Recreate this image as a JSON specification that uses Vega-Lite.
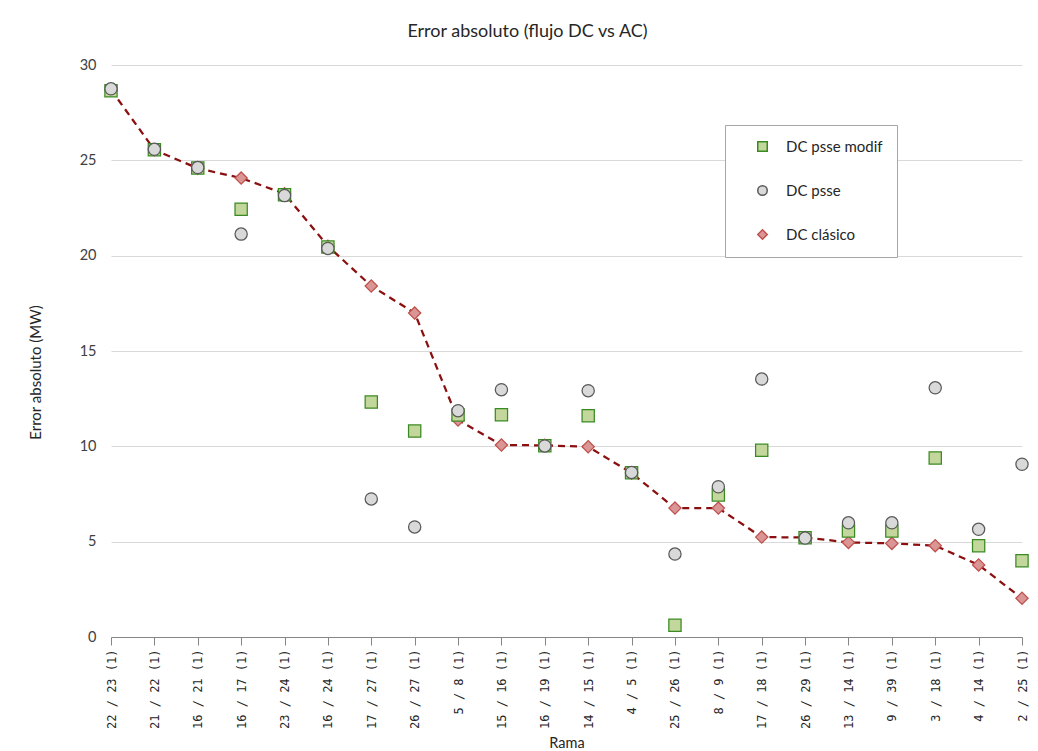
{
  "$schema": "https://vega.github.io/schema/vega-lite/v6.json",
  "autosize": {"type": "none"},
  "padding": {"left": 111, "top": 65, "right": 16, "bottom": 114},
  "width": 911,
  "height": 572,
  "background": "white",
  "title": {"text": "Error absoluto (flujo DC vs AC)", "font": "Lato", "fontSize": 18, "fontWeight": "normal", "color": "#262626", "anchor": "middle", "dx": -39, "offset": 16},
  "config": {
    "view": {"stroke": null},
    "font": "Lato"
  },
  "data": {
    "values": [
      {"rama": "22 / 23 (1)", "DC clásico": 28.7, "DC psse modif": 28.65, "DC psse": 28.75},
      {"rama": "21 / 22 (1)", "DC clásico": 25.55, "DC psse modif": 25.55, "DC psse": 25.58},
      {"rama": "16 / 21 (1)", "DC clásico": 24.58, "DC psse modif": 24.6, "DC psse": 24.62},
      {"rama": "16 / 17 (1)", "DC clásico": 24.07, "DC psse modif": 22.44, "DC psse": 21.13},
      {"rama": "23 / 24 (1)", "DC clásico": 23.25, "DC psse modif": 23.2, "DC psse": 23.15},
      {"rama": "16 / 24 (1)", "DC clásico": 20.5, "DC psse modif": 20.45, "DC psse": 20.38},
      {"rama": "17 / 27 (1)", "DC clásico": 18.41, "DC psse modif": 12.32, "DC psse": 7.24},
      {"rama": "26 / 27 (1)", "DC clásico": 16.99, "DC psse modif": 10.8, "DC psse": 5.77},
      {"rama": "5 / 8 (1)", "DC clásico": 11.38, "DC psse modif": 11.64, "DC psse": 11.87},
      {"rama": "15 / 16 (1)", "DC clásico": 10.07, "DC psse modif": 11.66, "DC psse": 12.97},
      {"rama": "16 / 19 (1)", "DC clásico": 10.05, "DC psse modif": 10.03, "DC psse": 10.02},
      {"rama": "14 / 15 (1)", "DC clásico": 9.98, "DC psse modif": 11.6, "DC psse": 12.92},
      {"rama": "4 / 5 (1)", "DC clásico": 8.6, "DC psse modif": 8.62, "DC psse": 8.63},
      {"rama": "25 / 26 (1)", "DC clásico": 6.76, "DC psse modif": 0.61, "DC psse": 4.35},
      {"rama": "8 / 9 (1)", "DC clásico": 6.76, "DC psse modif": 7.45, "DC psse": 7.88},
      {"rama": "17 / 18 (1)", "DC clásico": 5.24, "DC psse modif": 9.79, "DC psse": 13.53},
      {"rama": "26 / 29 (1)", "DC clásico": 5.22, "DC psse modif": 5.2, "DC psse": 5.19},
      {"rama": "13 / 14 (1)", "DC clásico": 4.96, "DC psse modif": 5.56, "DC psse": 5.99},
      {"rama": "9 / 39 (1)", "DC clásico": 4.91, "DC psse modif": 5.56, "DC psse": 5.99},
      {"rama": "3 / 18 (1)", "DC clásico": 4.79, "DC psse modif": 9.39, "DC psse": 13.07},
      {"rama": "4 / 14 (1)", "DC clásico": 3.78, "DC psse modif": 4.79, "DC psse": 5.65},
      {"rama": "2 / 25 (1)", "DC clásico": 2.03, "DC psse modif": 4.0, "DC psse": 9.06}
    ]
  },
  "transform": [
    {"fold": ["DC clásico", "DC psse modif", "DC psse"], "as": ["serie", "valor"]}
  ],
  "encoding": {
    "x": {
      "field": "rama", "type": "nominal", "sort": null,
      "scale": {"type": "point", "padding": 0},
      "axis": {
        "title": "Rama", "titleFont": "Lato", "titleFontSize": 14.5, "titleFontWeight": "normal", "titleColor": "#262626", "titlePadding": 8,
        "labelAngle": -90, "labelAlign": "right", "labelBaseline": "middle",
        "labelFont": "DejaVu Sans Mono", "labelFontSize": 12, "labelColor": "#262626", "labelPadding": 4,
        "domainColor": "#868686", "tickColor": "#868686", "tickSize": 8, "grid": false
      }
    },
    "y": {
      "field": "valor", "type": "quantitative",
      "scale": {"domain": [0, 30], "nice": false},
      "axis": {
        "title": "Error absoluto (MW)", "titleFont": "Lato", "titleFontSize": 15, "titleFontWeight": "normal", "titleColor": "#262626", "titlePadding": 36, "titleY": 307,
        "values": [0, 5, 10, 15, 20, 25, 30],
        "labelFont": "Lato", "labelFontSize": 14.5, "labelColor": "#404040", "labelPadding": 15,
        "domain": false, "ticks": false, "grid": true, "gridColor": "#d9d9d9"
      }
    }
  },
  "layer": [
    {
      "transform": [{"filter": "datum.serie === 'DC clásico'"}],
      "mark": {"type": "line", "color": "#8b0f0f", "strokeWidth": 2.25, "strokeDash": [7, 5]},
      "encoding": {}
    },
    {
      "mark": {"type": "point", "filled": true, "strokeWidth": 1.25, "opacity": 1},
      "encoding": {
        "shape": {
          "field": "serie", "type": "nominal",
          "scale": {"domain": ["DC psse modif", "DC psse", "DC clásico"], "range": ["square", "circle", "diamond"]},
          "legend": {
            "title": null, "orient": "none", "legendX": 614, "legendY": 60,
            "strokeColor": "#a6a6a6", "fillColor": "white", "padding": 14,
            "rowPadding": 27, "symbolOffset": 16, "labelOffset": 16,
            "labelFont": "Lato", "labelFontSize": 15, "labelColor": "#262626",
            "symbolSize": 90, "labelLimit": 200
          }
        },
        "fill": {
          "field": "serie", "type": "nominal",
          "scale": {"domain": ["DC psse modif", "DC psse", "DC clásico"], "range": ["#c3d69b", "#d9d9d9", "#d99694"]},
          "legend": {"title": null}
        },
        "stroke": {
          "field": "serie", "type": "nominal",
          "scale": {"domain": ["DC psse modif", "DC psse", "DC clásico"], "range": ["#3a8a22", "#595959", "#c0504d"]},
          "legend": {"title": null}
        },
        "size": {"value": 150}
      }
    }
  ]
}
